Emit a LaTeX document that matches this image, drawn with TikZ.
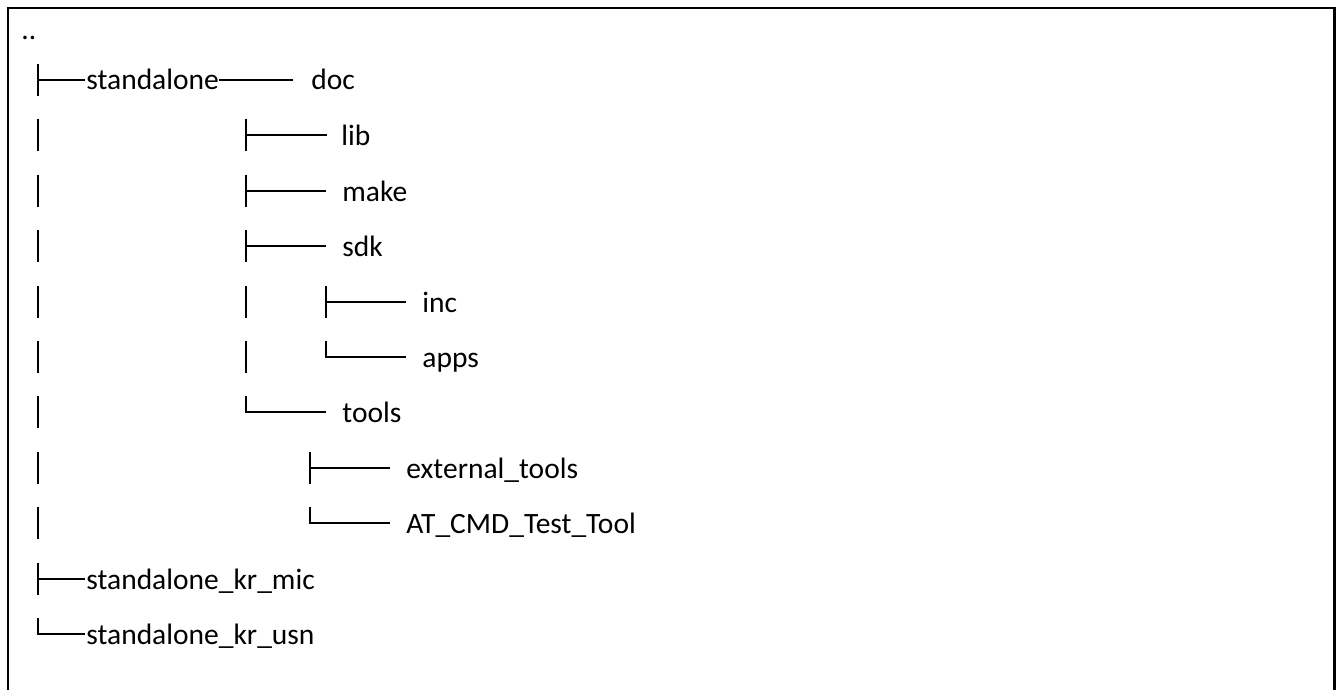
\documentclass[tikz,border=0pt]{standalone}
\usepackage{fontspec}
\setmainfont{Carlito}
\usetikzlibrary{calc}
\def\treetee(#1,#2)(#3){\draw[tree] (#1,#2-16) -- (#1,#2+16); \draw[tree] (#1,#2) -- (#3,#2);}
\def\treeend(#1,#2)(#3){\draw[tree] (#1,#2-16) -- (#1,#2) -- (#3,#2);}
\def\treebar(#1,#2){\draw[tree] (#1,#2-16) -- (#1,#2+16);}

\begin{document}
\begin{tikzpicture}[x=0.5pt, y=-0.5pt,
	tree/.style={line width=0.9pt},
	dirname/.style={anchor=base west, inner sep=0pt, font=\fontsize{14.75}{17}\selectfont}]
			%%%%% FRAME %%%%%
			\useasboundingbox (0, 0) rectangle (1336, 690);
			\draw[line width=1.4pt] (8, 690) -- (8, 8) -- (1334.5, 8) -- (1334.5, 690);
			
			%%%%% NAMES %%%%%
			\node[dirname] (dotdot) at (21, 40) {..};
			\node[dirname] (standalone) at (86, 90) {standalone};
			\node[dirname] (doc) at (311, 90) {doc};
			\node[dirname] (lib) at (341, 145) {lib};
			\node[dirname] (make) at (342, 201) {make};
			\node[dirname] (sdk) at (342, 256) {sdk};
			\node[dirname] (inc) at (422, 312) {inc};
			\node[dirname] (apps) at (422, 367) {apps};
			\node[dirname] (tools) at (342, 422) {tools};
			\node[dirname] (exttools) at (406, 478) {external\_tools};
			\node[dirname] (attool) at (406, 533) {AT\_CMD\_Test\_Tool};
			\node[dirname] (krmic) at (86, 589) {standalone\_kr\_mic};
			\node[dirname] (krusn) at (86, 644) {standalone\_kr\_usn};
			
			%%%%% BRANCHES %%%%%
			\treetee(38, 80)(85);
			\draw[tree] (standalone.east |- 0, 80) -- ([xshift=-9pt]doc.west |- 0, 80);
			\foreach \y in {135, 191, 246, 302, 357, 412, 468, 523}
				\treebar(38, \y);
			
			\treetee(246, 135)(327);
			\treetee(246, 191)(326);
			\treetee(246, 246)(326);
			\treebar(246, 302);
			\treetee(326, 302)(406);
			\treebar(246, 357);
			\treeend(326, 357)(406);
			\treeend(246, 412)(326);
			
			\treetee(310, 468)(390);
			\treeend(310, 523)(390);
			
			\treetee(38, 579)(85);
			\treeend(38, 634)(85);
\end{tikzpicture}
\end{document}
